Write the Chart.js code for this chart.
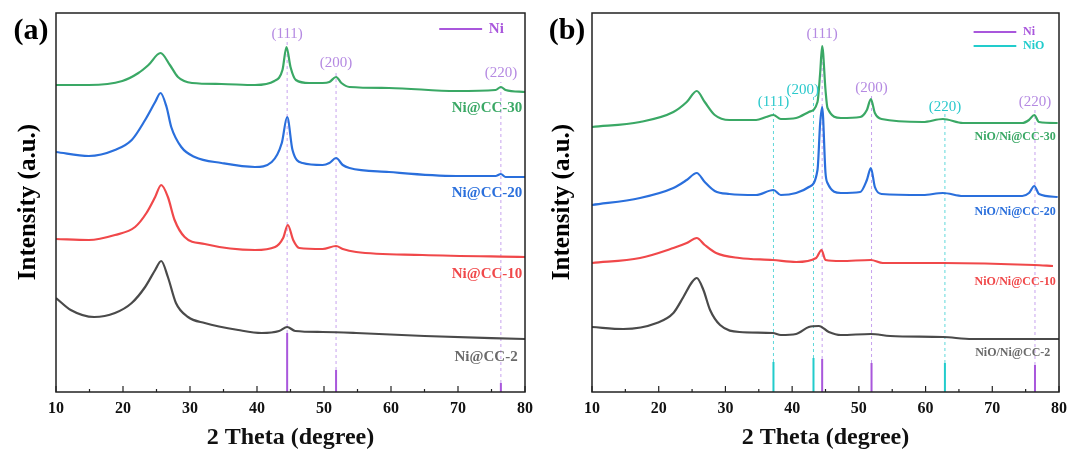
<!DOCTYPE html>
<html>
<head>
<meta charset="utf-8">
<script src="https://cdn.jsdelivr.net/npm/chart.js@4/dist/chart.umd.min.js"></script>
<style>
html, body { margin: 0; padding: 0; background: #fff; overflow: hidden; width: 1074px; height: 452px; }
.panel { position: absolute; top: 0; height: 452px; }
#pa { left: 0; width: 540px; }
#pb { left: 540px; width: 534px; }
</style>
</head>
<body>
<div class="panel" id="pa"><canvas id="chartA" width="540" height="452"></canvas></div>
<div class="panel" id="pb"><canvas id="chartB" width="534" height="452"></canvas></div>
<script>
// ---- panel (a): Ni@CC samples, offset intensity (a.u.) ----
const aCC30x = [10, 14.9, 19.9, 22.3, 23.8, 25.6, 27, 28.2, 30.3, 34.7, 39.7, 42.6, 43.8, 44.4, 45, 45.8, 47.8, 49.8, 50.8, 51.8, 52.6, 53.8, 59.7, 69.7, 75.6, 76.4, 77.1, 80];
const aCC30y = [307, 307, 311, 319, 327, 339, 327, 315, 309, 308, 307, 311, 322, 345, 325, 312, 309, 309, 310, 315, 309, 305, 304, 301, 302, 305, 302, 300];
const aCC20x = [10, 14.9, 18.8, 21.3, 23.3, 24.8, 25.6, 26.5, 27.2, 28.7, 30.7, 34.7, 39.7, 42.2, 43.7, 44.5, 45.3, 46.8, 49.8, 50.8, 51.8, 52.8, 53.8, 59.7, 69.7, 75.6, 76.4, 77.1, 80];
const aCC20y = [240, 236, 242, 252, 272, 290, 299, 285, 265, 245, 235, 229, 225, 230, 249, 275, 242, 229, 227, 229, 234, 227, 224, 220, 216, 216, 218, 215, 215];
const aCC10x = [10, 14.9, 18.8, 21.8, 23.5, 24.8, 25.7, 26.7, 27.7, 29.2, 32.2, 39.7, 42.7, 43.9, 44.6, 45.4, 46.3, 49.8, 51.8, 52.8, 54.8, 64.7, 80];
const aCC10y = [153, 152, 157, 165, 179, 195, 207, 195, 172, 155, 148, 142, 145, 154, 167, 152, 144, 143, 146, 143, 140, 137, 135];
const aCC2x = [10, 12.2, 15.7, 18.8, 21.3, 23.3, 24.8, 25.7, 26.7, 27.9, 29.7, 32.2, 37.2, 40.7, 43.3, 44.5, 45.7, 49.8, 54.8, 65, 80];
const aCC2y = [94, 82, 75, 79, 89, 105, 122, 131, 115, 89, 75, 69, 62, 59, 61, 65, 61, 60, 59, 56, 53];

const aNiPos = [44.5, 51.8, 76.4];
const aNiInt = [59, 22, 9];
const aNiGuideTop = [350, 320, 310];
const aNames = ['Ni@CC-30', 'Ni@CC-20', 'Ni@CC-10', 'Ni@CC-2'];
const aPeakText = ['(111)', '(200)', '(220)'];

// ---- panel (b): NiO/Ni@CC samples ----
const bCC30x = [10, 17.2, 22.2, 24.2, 25.7, 26.9, 28.4, 30.6, 34.6, 36.1, 37.2, 38.3, 40.6, 42.5, 43.8, 44.2, 44.5, 45.0, 45.3, 47.3, 50.2, 51.2, 51.8, 52.4, 53.4, 59.6, 62.6, 65.6, 74.5, 75.5, 76.3, 77.0, 79.8];
const bCC30y = [265, 270, 280, 290, 301, 290, 277, 272, 272, 275, 277, 273, 274, 280, 290, 319, 346, 302, 284, 274, 275, 282, 293, 279, 273, 270, 273, 269, 269, 272, 277, 270, 269];
const bCC20x = [10, 17.2, 22.2, 24.2, 25.7, 26.9, 28.4, 30.6, 34.6, 37.2, 38.3, 40.6, 42.5, 43.8, 44.2, 44.5, 45.0, 45.3, 47.3, 50.2, 51.2, 51.8, 52.4, 53.4, 59.6, 62.6, 65.6, 74.5, 75.5, 76.3, 77.0, 79.8];
const bCC20y = [187, 194, 204, 212, 219, 210, 201, 198, 197, 202, 197, 199, 205, 222, 269, 285, 219, 209, 199, 200, 212, 224, 205, 198, 197, 199, 196, 196, 199, 206, 198, 195];
const bCC10x = [10, 17.2, 22.2, 24.2, 25.7, 26.9, 28.6, 32.1, 37.1, 40.6, 43.6, 44.4, 45.0, 47.3, 51.8, 53.6, 62.6, 76.3, 79.1];
const bCC10y = [129, 134, 144, 149, 154, 147, 139, 134, 132, 130, 134, 142, 132, 131, 132, 129, 129, 127, 126];
const bCC2x = [10, 14.7, 19.7, 22.2, 23.7, 25.0, 25.7, 26.7, 27.7, 29.2, 32.1, 37.1, 38.3, 40.6, 42.5, 44.0, 45.5, 47.3, 51.8, 54.7, 62.6, 67, 80];
const bCC2y = [65, 63, 69, 79, 95, 110, 114, 102, 82, 67, 60, 59, 57, 58, 65, 66, 60, 57, 58, 56, 55, 53, 53];

const bNiPos = [44.5, 51.9, 76.4];
const bNiInt = [33, 29, 27];
const bNiGuideTop = [345, 297, 282];
const bNiOPos = [37.2, 43.2, 62.9];
const bNiOInt = [30, 34, 29];
const bNiOGuideTop = [284, 295, 279];
const bNames = ['NiO/Ni@CC-30', 'NiO/Ni@CC-20', 'NiO/Ni@CC-10', 'NiO/Ni@CC-2'];

const SERIF = '"Liberation Serif", "Times New Roman", serif';
const GREEN = '#3aa865', BLUE = '#2a6fdc', RED = '#f0484a', GREY = '#4a4a4a';
const VIOLET = '#a957dc', VIOLET_TXT = '#b58ae2', VIOLET_DASH = '#c7a2ee';
const CYAN = '#22cccc', CYAN_TXT = '#2bc9cc', CYAN_DASH = '#5fd8da';

function pts(xs, ys) {
  return xs.map((x, i) => ({ x: x, y: ys[i] }));
}

// vertical sticks from lo to hi, separated by gaps
function sticks(pos, lo, hi) {
  const out = [];
  pos.forEach((p, i) => {
    out.push({ x: p, y: lo[i] }, { x: p, y: hi[i] }, { x: p, y: null });
  });
  return out;
}

function trace(data, color) {
  return { data: data, borderColor: color, borderWidth: 2.2, pointRadius: 0, cubicInterpolationMode: 'monotone' };
}
function stick(data, color, dash) {
  return { data: data, borderColor: color, borderWidth: dash ? 1 : 2, borderDash: dash ? [3, 3] : [], pointRadius: 0, spanGaps: false };
}

const decor = {
  id: 'decor',
  afterDatasetsDraw(chart, args, o) {
    const { ctx, chartArea: a, scales: { x, y } } = chart;
    ctx.save();
    ctx.strokeStyle = '#222';
    ctx.lineWidth = 1.5;
    ctx.strokeRect(a.left, a.top, a.right - a.left, a.bottom - a.top);
    ctx.lineWidth = 1.2;
    for (let t = 10; t <= 80; t += 5) {
      const px = x.getPixelForValue(t);
      const len = t % 10 === 0 ? 6 : 3;
      ctx.beginPath();
      ctx.moveTo(px, a.bottom);
      ctx.lineTo(px, a.bottom - len);
      ctx.stroke();
    }
    ctx.textBaseline = 'middle';
    ctx.textAlign = 'center';
    ctx.font = '15px ' + SERIF;
    o.peaks.forEach(p => {
      ctx.fillStyle = p.color;
      ctx.fillText(p.text, x.getPixelForValue(p.x), y.getPixelForValue(p.y));
    });
    ctx.textAlign = 'right';
    ctx.font = 'bold ' + o.nameSize + 'px ' + SERIF;
    o.names.forEach(n => {
      ctx.fillStyle = n.color;
      ctx.fillText(n.text, x.getPixelForValue(n.x), y.getPixelForValue(n.y));
    });
    ctx.lineWidth = 2;
    ctx.textAlign = 'left';
    ctx.font = 'bold ' + o.legendSize + 'px ' + SERIF;
    o.legend.forEach(l => {
      const py = y.getPixelForValue(l.y);
      ctx.strokeStyle = l.color;
      ctx.beginPath();
      ctx.moveTo(x.getPixelForValue(67.2), py);
      ctx.lineTo(x.getPixelForValue(73.6), py);
      ctx.stroke();
      ctx.fillStyle = l.color;
      ctx.fillText(l.text, x.getPixelForValue(74.6), py);
    });
    ctx.fillStyle = '#000';
    ctx.textAlign = 'center';
    ctx.font = 'bold 30px ' + SERIF;
    ctx.fillText(o.tag, o.tagX, 31);
    ctx.translate(o.yTitleX, 202);
    ctx.rotate(-Math.PI / 2);
    ctx.font = 'bold 25px ' + SERIF;
    ctx.fillText('Intensity (a.u.)', 0, 0);
    ctx.restore();
  }
};

function makeChart(id, datasets, pad, deco) {
  return new Chart(document.getElementById(id), {
    type: 'line',
    data: { datasets: datasets },
    options: {
      responsive: false,
      animation: false,
      layout: { padding: pad },
      plugins: { legend: { display: false }, tooltip: { enabled: false }, decor: deco },
      scales: {
        x: {
          type: 'linear', min: 10, max: 80,
          grid: { display: false, drawTicks: false },
          border: { display: false },
          ticks: { stepSize: 10, color: '#111', padding: 7, font: { family: SERIF, size: 16, weight: 'bold' } },
          title: { display: true, text: '2 Theta (degree)', color: '#111', padding: { top: 0, bottom: 0 }, font: { family: SERIF, size: 24, weight: 'bold' } },
          afterFit: s => { s.height = 60; }
        },
        y: { display: false, min: 0, max: 379 }
      }
    },
    plugins: [decor]
  });
}

makeChart('chartA', [
  trace(pts(aCC30x, aCC30y), GREEN),
  trace(pts(aCC20x, aCC20y), BLUE),
  trace(pts(aCC10x, aCC10y), RED),
  trace(pts(aCC2x, aCC2y), GREY),
  stick(sticks(aNiPos, aNiInt, aNiGuideTop), VIOLET_DASH, true),
  stick(sticks(aNiPos, aNiPos.map(() => 0), aNiInt), VIOLET, false)
], { left: 56, right: 14, top: 13, bottom: 0 }, {
  peaks: [
    { text: aPeakText[0], x: 44.5, y: 358, color: VIOLET_TXT },
    { text: aPeakText[1], x: 51.8, y: 329, color: VIOLET_TXT },
    { text: aPeakText[2], x: 76.4, y: 319, color: VIOLET_TXT }
  ],
  nameSize: 15,
  names: [
    { text: aNames[0], x: 79.6, y: 284, color: GREEN },
    { text: aNames[1], x: 79.6, y: 199, color: BLUE },
    { text: aNames[2], x: 79.6, y: 118, color: RED },
    { text: aNames[3], x: 78.9, y: 35, color: '#6a6a6a' }
  ],
  legendSize: 15,
  legend: [{ text: 'Ni', y: 363, color: VIOLET }],
  tag: '(a)', tagX: 31, yTitleX: 29
});

makeChart('chartB', [
  trace(pts(bCC30x, bCC30y), GREEN),
  trace(pts(bCC20x, bCC20y), BLUE),
  trace(pts(bCC10x, bCC10y), RED),
  trace(pts(bCC2x, bCC2y), GREY),
  stick(sticks(bNiPos, bNiInt, bNiGuideTop), VIOLET_DASH, true),
  stick(sticks(bNiOPos, bNiOInt, bNiOGuideTop), CYAN_DASH, true),
  stick(sticks(bNiPos, bNiPos.map(() => 0), bNiInt), VIOLET, false),
  stick(sticks(bNiOPos, bNiOPos.map(() => 0), bNiOInt), CYAN, false)
], { left: 52, right: 13, top: 13, bottom: 0 }, {
  peaks: [
    { text: '(111)', x: 37.2, y: 290, color: CYAN_TXT },
    { text: '(200)', x: 41.6, y: 302, color: CYAN_TXT },
    { text: '(111)', x: 44.5, y: 358, color: VIOLET_TXT },
    { text: '(200)', x: 51.9, y: 304, color: VIOLET_TXT },
    { text: '(220)', x: 62.9, y: 285, color: CYAN_TXT },
    { text: '(220)', x: 76.4, y: 290, color: VIOLET_TXT }
  ],
  nameSize: 12,
  names: [
    { text: bNames[0], x: 79.5, y: 255, color: GREEN },
    { text: bNames[1], x: 79.5, y: 180, color: BLUE },
    { text: bNames[2], x: 79.5, y: 110, color: RED },
    { text: bNames[3], x: 78.7, y: 39, color: '#6a6a6a' }
  ],
  legendSize: 12,
  legend: [
    { text: 'Ni', y: 360, color: VIOLET },
    { text: 'NiO', y: 346, color: CYAN }
  ],
  tag: '(b)', tagX: 27, yTitleX: 23
});
</script>
</body>
</html>
